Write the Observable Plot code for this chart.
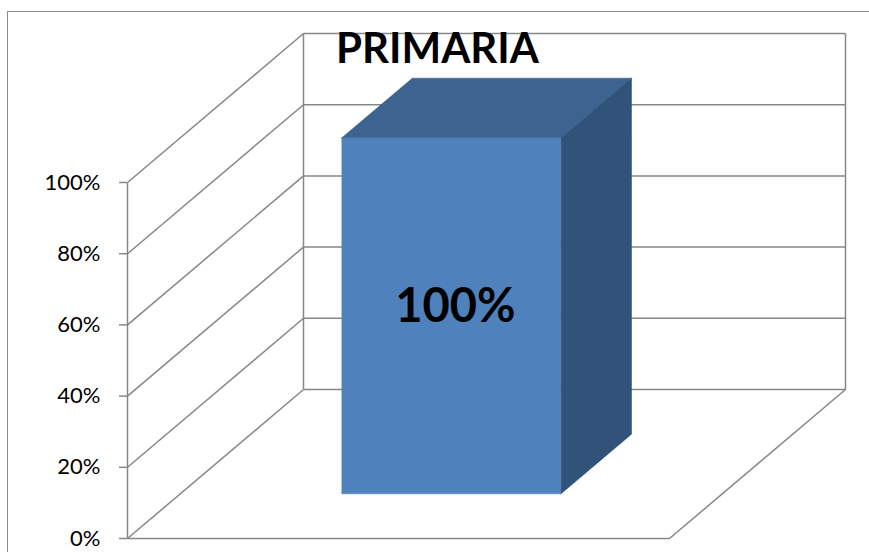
<!DOCTYPE html>
<html><head><meta charset="utf-8">
<script src="https://cdn.jsdelivr.net/npm/d3@7"></script>
<script src="https://cdn.jsdelivr.net/npm/@observablehq/plot@0.6"></script>
<style>
body{margin:0;background:#fff;overflow:hidden}
#wrap{position:relative;width:869px;height:552px;overflow:hidden;background:#fff}
#wrap svg{position:absolute;left:0;top:0}
#border{position:absolute;left:7px;top:11px;width:900px;height:600px;border:1.5px solid #8a8a8a;pointer-events:none}
</style></head>
<body><div id="wrap"><div id="border"></div></div>
<script>
// ---- data ----
const categories = ["PRIMARIA"];
const values = [1.00];
const barLabels = ["100%"];
const yTicks = [0, 0.2, 0.4, 0.6, 0.8, 1.0];
const tickLabels = ["0%", "20%", "40%", "60%", "80%", "100%"];

// ---- layout (3D projection) ----
const W = 869, H = 552, ML = 127;
const PXU = 542, PXV = 356;          // px per unit across / per unit value
const DX = 176 / PXU, DY = 149 / PXV; // depth offset per unit depth
const GRID = "#878787";
const P = (u, v, w) => ({x: u + w * DX, y: v + w * DY});
const seg = (a, b) => ({x1: a.x, y1: a.y, x2: b.x, y2: b.y});

const gridLinks = [];
yTicks.forEach(v => {
  gridLinks.push(seg(P(0, v, 0), P(0, v, 1)));
  gridLinks.push(seg(P(0, v, 1), P(1, v, 1)));
});
const vmax = yTicks[yTicks.length - 1];
gridLinks.push(seg(P(0, 0, 0), P(0, vmax, 0)));
gridLinks.push(seg(P(0, 0, 1), P(0, vmax, 1)));
gridLinks.push(seg(P(1, 0, 1), P(1, vmax, 1)));
gridLinks.push(seg(P(0, 0, 0), P(1, 0, 0)));
gridLinks.push(seg(P(1, 0, 0), P(1, 0, 1)));

const n = categories.length, bw = 0.405, w0 = 0.3, w1 = 0.7;
const faceFront = [], faceTop = [], faceSide = [], barText = [];
categories.forEach((c, i) => {
  const cu = (i + 0.5) / n, u0 = cu - bw / 2, u1 = cu + bw / 2, v = values[i];
  [P(u0, 0, w0), P(u1, 0, w0), P(u1, v, w0), P(u0, v, w0)].forEach(p => faceFront.push({...p, c}));
  [P(u0, v, w0), P(u1, v, w0), P(u1, v, w1), P(u0, v, w1)].forEach(p => faceTop.push({...p, c}));
  [P(u1, 0, w0), P(u1, 0, w1), P(u1, v, w1), P(u1, v, w0)].forEach(p => faceSide.push({...p, c}));
  barText.push({...P(cu, v / 2, w0), text: barLabels[i]});
});

const chart = Plot.plot({
  width: W, height: H,
  marginLeft: ML, marginRight: 0, marginTop: 0, marginBottom: 0,
  style: {background: "transparent", fontFamily: "Lato, 'Open Sans', sans-serif", color: "black"},
  x: {domain: [0, (W - ML) / PXU], axis: null},
  y: {domain: [-(H - 538) / PXV, 538 / PXV], axis: null},
  marks: [
    Plot.link(gridLinks, {x1: "x1", y1: "y1", x2: "x2", y2: "y2", stroke: GRID, strokeWidth: 1.5}),
    Plot.axisY(yTicks, {anchor: "left", tickFormat: d => tickLabels[yTicks.indexOf(d)],
      tickSize: 8, tickPadding: 19, stroke: GRID, strokeWidth: 1.5, fill: "black", fontSize: 22, label: null}),
    Plot.line(faceFront, {x: "x", y: "y", z: "c", fill: "#4F81BD", stroke: "#4F81BD", strokeWidth: 0.6}),
    Plot.line(faceTop, {x: "x", y: "y", z: "c", fill: "#3D6491", stroke: "#3D6491", strokeWidth: 0.6}),
    Plot.line(faceSide, {x: "x", y: "y", z: "c", fill: "#325379", stroke: "#325379", strokeWidth: 0.6}),
    Plot.text(barText, {x: "x", y: "y", text: "text", fontSize: 47, fontWeight: "bold", fill: "black", dx: 4, dy: -9}),
    Plot.text(categories, {frameAnchor: "top-left", dx: 310, dy: 33, lineAnchor: "top", textAnchor: "middle",
      fontSize: 42, fontWeight: "bold", fill: "black"})
  ]
});
document.getElementById("wrap").insertBefore(chart, document.getElementById("border"));
</script>
</body></html>
